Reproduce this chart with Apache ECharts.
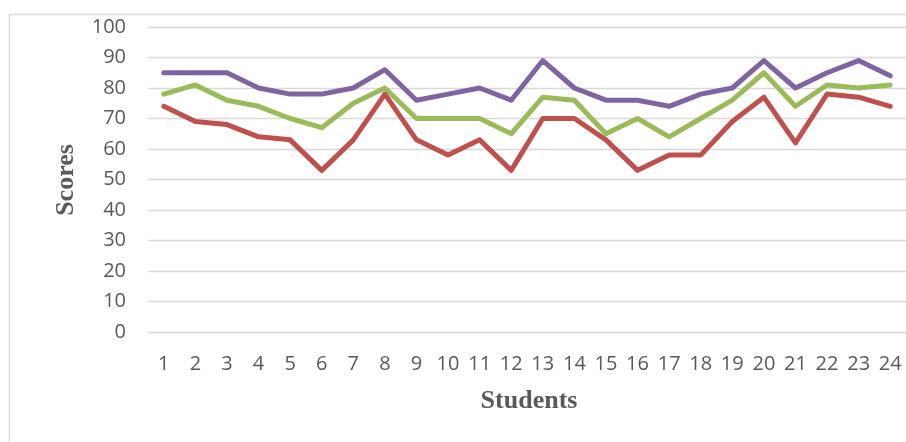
<!DOCTYPE html>
<html>
<head>
<meta charset="utf-8">
<script src="https://cdn.jsdelivr.net/npm/echarts@6/dist/echarts.min.js"></script>
<style>
  html, body { margin: 0; padding: 0; background: #ffffff; }
  #chart { width: 906px; height: 442px; }
</style>
</head>
<body>
<div id="chart"></div>
<script>
// Student numbers along the x axis
var students = ['1','2','3','4','5','6','7','8','9','10','11','12',
                '13','14','15','16','17','18','19','20','21','22','23','24'];

// Score series, one value per student
var purpleScores = [85, 85, 85, 80, 78, 78, 80, 86, 76, 78, 80, 76,
                    89, 80, 76, 76, 74, 78, 80, 89, 80, 85, 89, 84];
var greenScores  = [78, 81, 76, 74, 70, 67, 75, 80, 70, 70, 70, 65,
                    77, 76, 65, 70, 64, 70, 76, 85, 74, 81, 80, 81];
var redScores    = [74, 69, 68, 64, 63, 53, 63, 78, 63, 58, 63, 53,
                    70, 70, 63, 53, 58, 58, 69, 77, 62, 78, 77, 74];

// Y axis range
var yMin = 0, yMax = 100, yStep = 10;

var chart = echarts.init(document.getElementById('chart'), null, { renderer: 'canvas' });

function lineSeries(name, data, color) {
  return {
    name: name,
    type: 'line',
    data: data,
    symbol: 'none',
    smooth: false,
    lineStyle: { color: color, width: 5, cap: 'round', join: 'round' },
    itemStyle: { color: color },
    z: 3
  };
}

chart.setOption({
  animation: false,
  backgroundColor: '#ffffff',
  grid: { left: 148, top: 27, width: 762, height: 305, containLabel: false },
  xAxis: {
    type: 'category',
    data: students,
    boundaryGap: true,
    axisLine: { show: false },
    axisTick: { show: false },
    axisLabel: {
      interval: 0,
      margin: 22,
      color: '#595959',
      fontFamily: 'Open Sans',
      fontSize: 20
    },
    splitLine: { show: false }
  },
  yAxis: {
    type: 'value',
    min: yMin,
    max: yMax,
    interval: yStep,
    axisLine: { show: false },
    axisTick: { show: false },
    axisLabel: {
      margin: 22,
      color: '#595959',
      fontFamily: 'Open Sans',
      fontSize: 20
    },
    splitLine: { show: true, lineStyle: { color: '#d9d9d9', width: 1.3 } }
  },
  graphic: [
    {
      type: 'rect',
      left: 7, top: 12,
      shape: { x: 0, y: 0, width: 1000, height: 1000 },
      style: { fill: 'none', stroke: '#d9d9d9', lineWidth: 1.3 },
      silent: true,
      z: -1
    },
    {
      type: 'text',
      x: 66, y: 180,
      rotation: Math.PI / 2,
      style: {
        text: 'Scores',
        fill: '#595959',
        font: 'bold 26px "Liberation Serif"',
        textAlign: 'center',
        textVerticalAlign: 'middle'
      }
    },
    {
      type: 'text',
      x: 529, y: 401,
      style: {
        text: 'Students',
        fill: '#595959',
        font: 'bold 26px "Liberation Serif"',
        textAlign: 'center',
        textVerticalAlign: 'middle'
      }
    }
  ],
  series: [
    lineSeries('Series A', purpleScores, '#8064A2'),
    lineSeries('Series B', greenScores, '#9BBB59'),
    lineSeries('Series C', redScores, '#C0504D')
  ]
});
</script>
</body>
</html>
